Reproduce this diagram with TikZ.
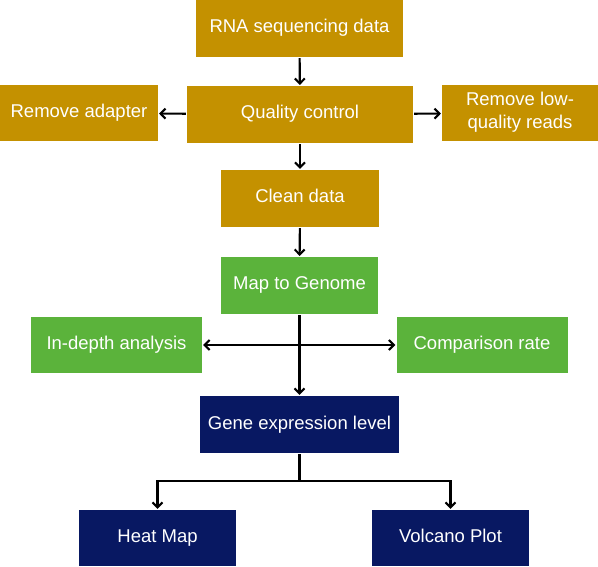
\documentclass[tikz,border=0pt]{standalone}
\usepackage{fontspec}
\setmainfont{Liberation Sans}
\usetikzlibrary{arrows.meta}
\definecolor{goldbox}{RGB}{196,145,0}
\definecolor{greenbox}{RGB}{91,179,59}
\definecolor{navybox}{RGB}{8,24,98}

\begin{document}
\begin{tikzpicture}[x=1pt, y=-1pt, line width=2.1pt,
  >={Straight Barb[length=5pt, width=10pt]},
  box/.style={inner sep=0pt, text=white, align=center,
    text height=13pt, text depth=4pt,
    font=\fontsize{18.5}{23}\selectfont},
  gold/.style={box, fill=goldbox},
  green/.style={box, fill=greenbox},
  navy/.style={box, fill=navybox},
  sz/.style 2 args={minimum width=#1pt, minimum height=#2pt}]
  \useasboundingbox (0,0) rectangle (598,567);

  % preprocessing
  \node[gold, sz={207}{57}] (rna) at (299.5, 28.5) {RNA sequencing data};
  \node[gold, sz={226}{57}] (qc) at (300, 114.5) {Quality control};
  \node[gold, sz={158}{56}] (adapter) at (79, 113) {Remove adapter};
  \node[gold, sz={156}{56}, text height=36pt] (lowq) at (520, 113)
    {Remove low-\\quality reads};
  \node[gold, sz={158}{57}] (clean) at (300, 198.5) {Clean data};

  % mapping
  \node[green, sz={157}{57}] (map) at (299.5, 285.5) {Map to Genome};
  \node[green, sz={171}{56}] (depth) at (116.5, 345) {In-depth analysis};
  \node[green, sz={171}{56}] (rate) at (482, 345) {Comparison rate};

  % expression
  \node[navy, sz={199}{57}] (gene) at (299.5, 424.5) {Gene expression level};
  \node[navy, sz={157}{56}] (heat) at (157.5, 538) {Heat Map};
  \node[navy, sz={157}{56}] (volcano) at (450.5, 538) {Volcano Plot};

  \coordinate (fork) at (299.5, 481);

  \draw[->] (rna) -- (qc);
  \draw[->] (qc) -- (adapter);
  \draw[->] (qc) -- (lowq);
  \draw[->] (qc) -- (clean);
  \draw[->] (clean) -- (map);
  \draw[->] (map) -- (gene);
  \draw[<->] (depth) -- (rate);
  \draw (gene) -- (fork);
  \draw[->] (fork) -| (heat);
  \draw[->] (fork) -| (volcano);
\end{tikzpicture}
\end{document}
